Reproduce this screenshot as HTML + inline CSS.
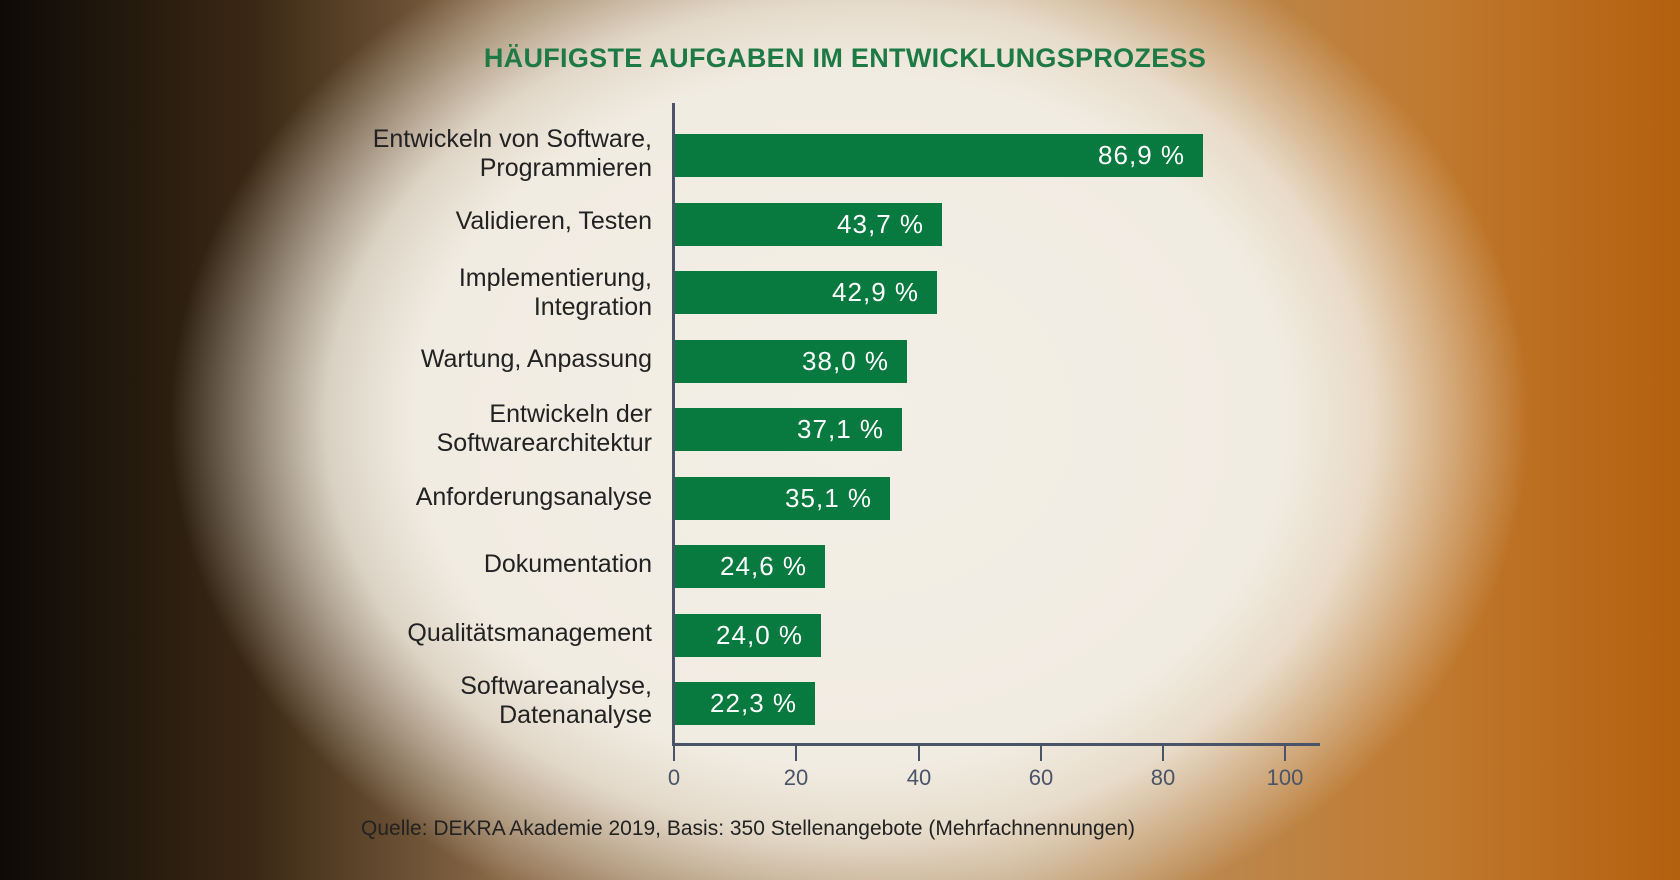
<!DOCTYPE html>
<html><head><meta charset="utf-8"><style>
body{margin:0;width:1680px;height:880px;overflow:hidden;font-family:"Liberation Sans",sans-serif;}
.bg{position:absolute;inset:0;background:linear-gradient(90deg,#0e0a07 0%,#3a2814 15%,#8a6a48 30%,#b89468 60%,#c07a30 85%,#b4600e 100%);}
.glow{position:absolute;inset:0;background:radial-gradient(ellipse 680px 540px at 850px 420px,#f3efe6 0%,#f1ece2 64%,rgba(240,234,222,0.85) 77%,rgba(240,234,222,0) 100%);}
.t{position:absolute;white-space:nowrap}
.lab{position:absolute;right:1028px;text-align:right;font-size:25px;color:#222;line-height:29px}
.bar{position:absolute;left:675px;height:43px;background:#087a3f;}
.val{position:absolute;right:18px;top:6px;color:#fff;font-size:26px;letter-spacing:1px}
.tick{position:absolute;top:744px;width:2px;height:17px;background:#4a5468}
.tl{position:absolute;top:765px;width:60px;margin-left:-30px;text-align:center;font-size:22px;color:#4a5468}
</style></head><body>
<div class="bg"></div><div class="glow"></div>
<div class="t" style="left:0;width:1690px;text-align:center;top:43px;font-size:27px;font-weight:bold;color:#1e7a45;letter-spacing:0.3px">HÄUFIGSTE AUFGABEN IM ENTWICKLUNGSPROZESS</div>
<div style="position:absolute;left:672px;top:103px;width:3px;height:643px;background:#4a5468"></div>
<div style="position:absolute;left:672px;top:743px;width:648px;height:3px;background:#4a5468"></div>

<div class="lab" style="top:125px">Entwickeln von Software,<br>Programmieren</div>
<div class="lab" style="top:207px">Validieren, Testen</div>
<div class="lab" style="top:264px">Implementierung,<br>Integration</div>
<div class="lab" style="top:345px">Wartung, Anpassung</div>
<div class="lab" style="top:400px">Entwickeln der<br>Softwarearchitektur</div>
<div class="lab" style="top:483px">Anforderungsanalyse</div>
<div class="lab" style="top:550px">Dokumentation</div>
<div class="lab" style="top:619px">Qualitätsmanagement</div>
<div class="lab" style="top:672px">Softwareanalyse,<br>Datenanalyse</div>

<div class="bar" style="top:134px;width:528px"><span class="val">86,9 %</span></div>
<div class="bar" style="top:203px;width:267px"><span class="val">43,7 %</span></div>
<div class="bar" style="top:271px;width:262px"><span class="val">42,9 %</span></div>
<div class="bar" style="top:340px;width:232px"><span class="val">38,0 %</span></div>
<div class="bar" style="top:408px;width:227px"><span class="val">37,1 %</span></div>
<div class="bar" style="top:477px;width:215px"><span class="val">35,1 %</span></div>
<div class="bar" style="top:545px;width:150px"><span class="val">24,6 %</span></div>
<div class="bar" style="top:614px;width:146px"><span class="val">24,0 %</span></div>
<div class="bar" style="top:682px;width:140px"><span class="val">22,3 %</span></div>

<div class="tick" style="left:673px"></div><div class="tick" style="left:795px"></div><div class="tick" style="left:918px"></div><div class="tick" style="left:1040px"></div><div class="tick" style="left:1162px"></div><div class="tick" style="left:1284px"></div>
<div class="tl" style="left:674px">0</div><div class="tl" style="left:796px">20</div><div class="tl" style="left:919px">40</div><div class="tl" style="left:1041px">60</div><div class="tl" style="left:1163px">80</div><div class="tl" style="left:1285px">100</div>
<div class="t" style="left:361px;top:817px;font-size:21px;color:#222">Quelle: DEKRA Akademie 2019, Basis: 350 Stellenangebote (Mehrfachnennungen)</div>
</body></html>
